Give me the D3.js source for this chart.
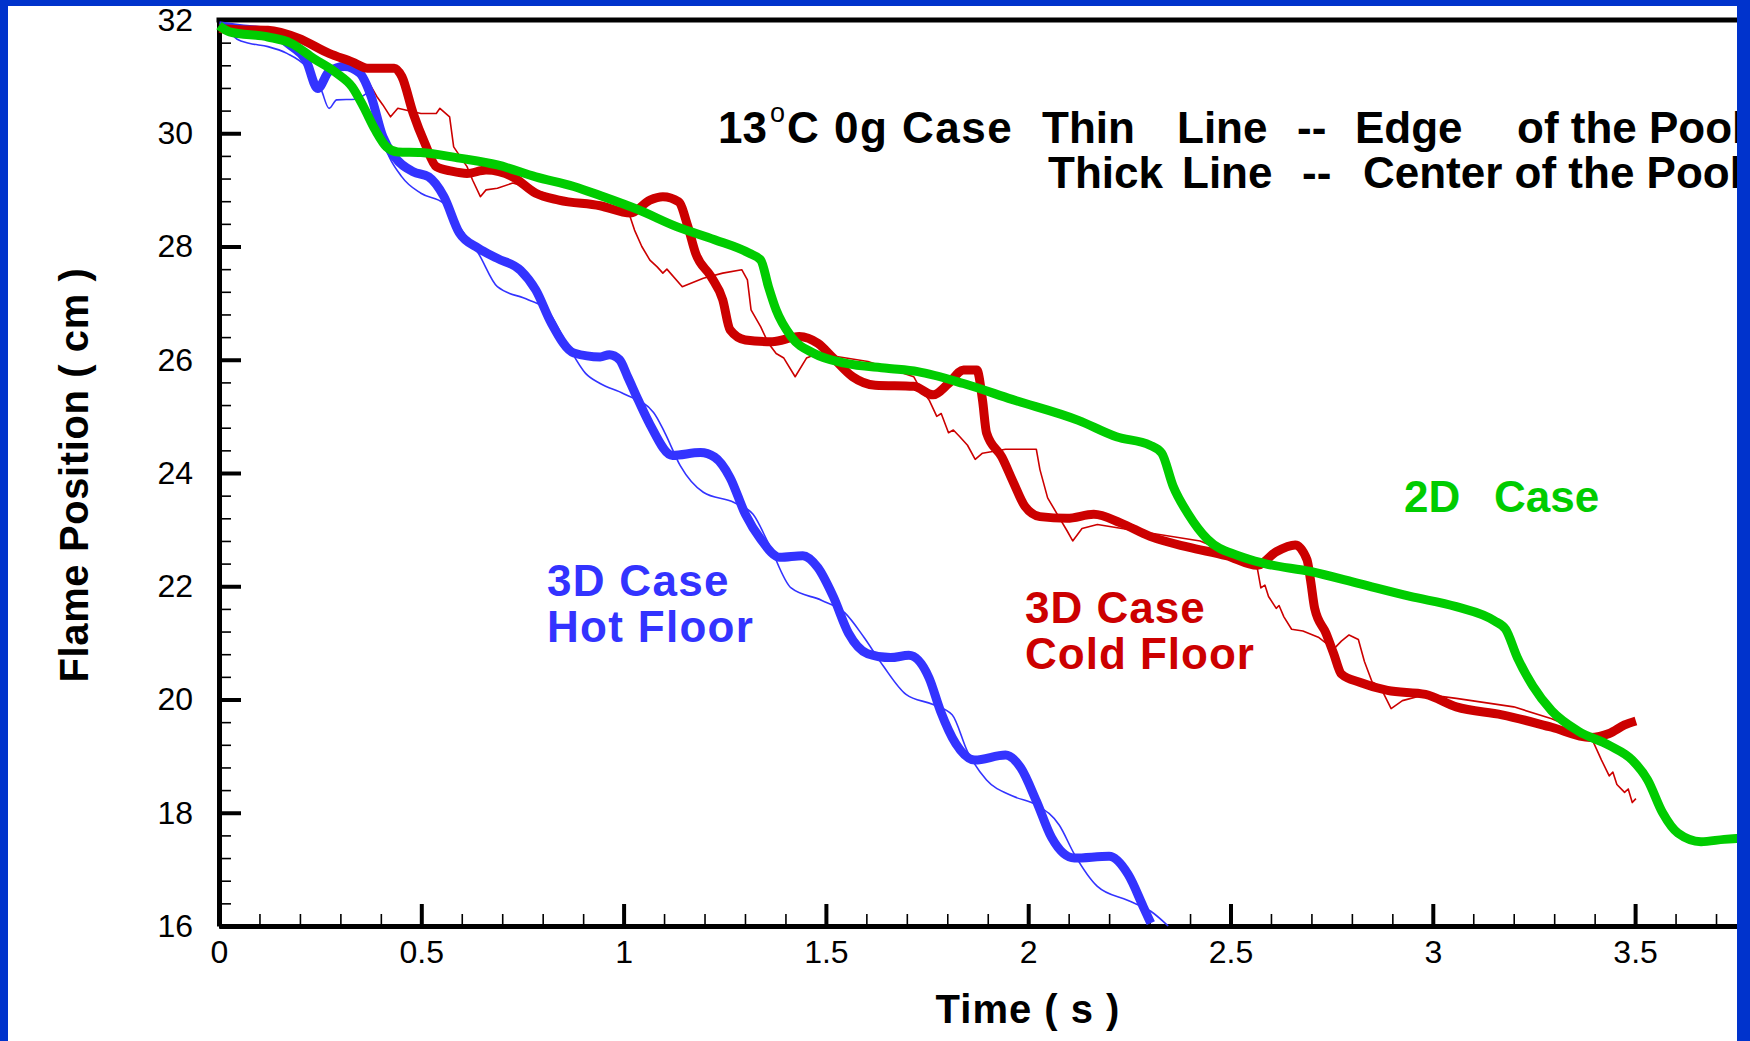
<!DOCTYPE html>
<html>
<head>
<meta charset="utf-8">
<script src="https://cdn.jsdelivr.net/npm/d3@7"></script>
<style>
  html, body { margin: 0; padding: 0; background: #ffffff; }
  svg { display: block; }
  text { font-family: "Liberation Sans", Arial, Helvetica, sans-serif; }
</style>
</head>
<body>
<svg id="chart" width="1750" height="1041"></svg>
<script>
// ---- Flame position vs time (13 C, 0g) ----

// 3D case, hot floor — centre of the pool (thick)
const hotCenterT = [0, 0.05, 0.12, 0.18, 0.215, 0.244, 0.272, 0.31, 0.348, 0.376, 0.405, 0.433, 0.48, 0.518, 0.556, 0.594, 0.641, 0.688, 0.745, 0.783, 0.821, 0.877, 0.942, 0.965, 0.99, 1.01, 1.036, 1.065, 1.121, 1.19, 1.225, 1.263, 1.301, 1.339, 1.386, 1.443, 1.48, 1.518, 1.556, 1.603, 1.66, 1.705, 1.755, 1.783, 1.821, 1.868, 1.944, 1.982, 2.02, 2.058, 2.114, 2.2, 2.247, 2.285, 2.303];
const hotCenterV = [31.9, 31.85, 31.79, 31.53, 31.29, 30.79, 31.09, 31.18, 31.06, 30.65, 29.94, 29.59, 29.32, 29.23, 28.88, 28.24, 27.97, 27.79, 27.58, 27.23, 26.65, 26.12, 26.05, 26.09, 26.0, 25.7, 25.29, 24.86, 24.31, 24.36, 24.28, 23.92, 23.27, 22.83, 22.51, 22.54, 22.33, 21.82, 21.17, 20.81, 20.74, 20.78, 20.38, 19.8, 19.22, 18.93, 19.02, 18.79, 18.21, 17.56, 17.2, 17.23, 16.91, 16.33, 16.05];

// 3D case, hot floor — edge of the pool (thin)
const hotEdgeT = [0.0, 0.012, 0.045, 0.074, 0.121, 0.168, 0.215, 0.253, 0.272, 0.291, 0.338, 0.376, 0.405, 0.452, 0.499, 0.556, 0.594, 0.641, 0.688, 0.764, 0.811, 0.859, 0.906, 0.942, 1.0, 1.074, 1.102, 1.14, 1.197, 1.273, 1.32, 1.358, 1.414, 1.49, 1.547, 1.594, 1.641, 1.698, 1.765, 1.812, 1.85, 1.897, 1.963, 2.02, 2.077, 2.114, 2.171, 2.247, 2.303, 2.346];
const hotEdgeV = [31.92, 31.89, 31.66, 31.59, 31.53, 31.41, 31.18, 30.76, 30.44, 30.59, 30.6, 30.73, 29.88, 29.23, 28.94, 28.76, 28.35, 27.88, 27.29, 27.06, 26.88, 26.29, 25.76, 25.58, 25.4, 25.07, 24.71, 24.13, 23.66, 23.48, 23.27, 22.76, 21.97, 21.75, 21.53, 21.1, 20.6, 20.09, 19.91, 19.73, 19.08, 18.58, 18.29, 18.14, 17.78, 17.27, 16.7, 16.45, 16.26, 16.0];

// 3D case, cold floor — centre of the pool (thick)
const coldCenterT = [0, 0.05, 0.121, 0.196, 0.272, 0.329, 0.367, 0.433, 0.452, 0.48, 0.509, 0.537, 0.575, 0.613, 0.66, 0.726, 0.783, 0.84, 0.942, 1.017, 1.065, 1.097, 1.136, 1.159, 1.178, 1.216, 1.245, 1.263, 1.301, 1.367, 1.434, 1.48, 1.518, 1.566, 1.622, 1.717, 1.765, 1.803, 1.84, 1.873, 1.887, 1.897, 1.935, 1.963, 1.992, 2.029, 2.096, 2.162, 2.228, 2.301, 2.396, 2.49, 2.566, 2.613, 2.66, 2.689, 2.698, 2.708, 2.736, 2.755, 2.774, 2.821, 2.888, 2.982, 3.058, 3.171, 3.294, 3.389, 3.436, 3.474, 3.502];
const coldCenterV = [31.85, 31.83, 31.82, 31.68, 31.41, 31.26, 31.15, 31.15, 31.0, 30.35, 29.82, 29.41, 29.33, 29.29, 29.35, 29.23, 28.94, 28.82, 28.72, 28.59, 28.82, 28.88, 28.79, 28.35, 27.88, 27.47, 27.06, 26.53, 26.35, 26.32, 26.41, 26.29, 26.03, 25.7, 25.55, 25.53, 25.38, 25.58, 25.82, 25.82, 25.29, 24.71, 24.28, 23.84, 23.41, 23.23, 23.2, 23.27, 23.12, 22.88, 22.69, 22.54, 22.37, 22.61, 22.73, 22.47, 22.1, 21.61, 21.17, 20.81, 20.45, 20.3, 20.16, 20.09, 19.87, 19.73, 19.51, 19.33, 19.4, 19.55, 19.62];

// 3D case, cold floor — edge of the pool (thin)
const coldEdgeT = [0, 0.045, 0.121, 0.196, 0.272, 0.33, 0.367, 0.39, 0.405, 0.424, 0.442, 0.499, 0.537, 0.546, 0.57, 0.58, 0.613, 0.627, 0.646, 0.66, 0.688, 0.726, 0.76, 0.84, 0.942, 1.013, 1.027, 1.045, 1.065, 1.083, 1.097, 1.107, 1.145, 1.197, 1.245, 1.292, 1.306, 1.315, 1.339, 1.358, 1.377, 1.396, 1.424, 1.452, 1.48, 1.604, 1.717, 1.73, 1.755, 1.774, 1.785, 1.803, 1.815, 1.831, 1.85, 1.869, 1.887, 1.944, 2.02, 2.029, 2.048, 2.072, 2.096, 2.11, 2.133, 2.171, 2.266, 2.425, 2.556, 2.566, 2.575, 2.585, 2.594, 2.613, 2.62, 2.632, 2.651, 2.679, 2.717, 2.755, 2.774, 2.793, 2.816, 2.831, 2.85, 2.869, 2.897, 2.925, 2.982, 3.058, 3.2, 3.294, 3.389, 3.403, 3.417, 3.436, 3.445, 3.455, 3.474, 3.483, 3.493, 3.502];
const coldEdgeV = [31.85, 31.7, 31.8, 31.66, 31.4, 31.2, 30.94, 30.65, 30.5, 30.29, 30.44, 30.35, 30.35, 30.44, 30.29, 29.76, 29.41, 29.17, 28.88, 29.0, 29.03, 29.12, 29.05, 28.85, 28.76, 28.59, 28.29, 28.0, 27.76, 27.64, 27.53, 27.6, 27.29, 27.44, 27.53, 27.59, 27.41, 26.88, 26.58, 26.29, 26.11, 26.03, 25.7, 26.03, 26.11, 25.97, 25.7, 25.53, 25.29, 25.0, 25.05, 24.71, 24.76, 24.64, 24.49, 24.24, 24.35, 24.42, 24.42, 24.06, 23.56, 23.27, 22.98, 22.8, 23.02, 23.09, 22.98, 22.8, 22.4, 22.33, 21.97, 22.02, 21.82, 21.61, 21.66, 21.46, 21.24, 21.21, 21.1, 20.89, 21.03, 21.14, 21.06, 20.67, 20.31, 20.24, 19.84, 19.98, 20.09, 20.02, 19.87, 19.66, 19.37, 19.15, 18.93, 18.65, 18.72, 18.5, 18.36, 18.42, 18.18, 18.25];

// 2D case (single thick line)
const twoDT = [0, 0.026, 0.121, 0.178, 0.234, 0.291, 0.329, 0.357, 0.386, 0.414, 0.442, 0.499, 0.594, 0.688, 0.783, 0.877, 0.942, 1.036, 1.131, 1.225, 1.311, 1.339, 1.358, 1.377, 1.414, 1.471, 1.547, 1.651, 1.727, 1.84, 1.96, 2.124, 2.218, 2.301, 2.33, 2.358, 2.396, 2.443, 2.519, 2.585, 2.698, 2.821, 2.944, 3.058, 3.152, 3.18, 3.209, 3.247, 3.294, 3.36, 3.436, 3.493, 3.531, 3.568, 3.606, 3.663, 3.72, 3.76, 3.8];
const twoDV = [31.9, 31.79, 31.7, 31.59, 31.32, 31.06, 30.82, 30.47, 30.06, 29.76, 29.67, 29.66, 29.56, 29.44, 29.23, 29.06, 28.9, 28.65, 28.35, 28.12, 27.88, 27.76, 27.29, 26.88, 26.41, 26.11, 25.94, 25.85, 25.79, 25.58, 25.3, 24.93, 24.64, 24.49, 24.35, 23.77, 23.27, 22.83, 22.54, 22.4, 22.26, 22.04, 21.82, 21.64, 21.39, 21.24, 20.74, 20.24, 19.8, 19.44, 19.19, 18.93, 18.58, 18.0, 17.64, 17.49, 17.53, 17.55, 17.56];

// axis ticks
const xTickValues = [0, 0.5, 1, 1.5, 2, 2.5, 3, 3.5];
const xTickLabels = ["0", "0.5", "1", "1.5", "2", "2.5", "3", "3.5"];
const yTickValues = [16, 18, 20, 22, 24, 26, 28, 30, 32];
const yTickLabels = ["16", "18", "20", "22", "24", "26", "28", "30", "32"];

// colours
const BLUE = "#3333ff", RED = "#cc0000", GREEN = "#00cc00", FRAME = "#0033cc";

const svg = d3.select("#chart");
svg.append("rect").attr("width", 1750).attr("height", 1041).attr("fill", "#ffffff");

const x = d3.scaleLinear().domain([0, 4]).range([219, 1837.4]);
const y = d3.scaleLinear().domain([16, 32]).range([926, 20]);

const zip = (ts, vs) => ts.map((t, i) => [t, vs[i]]);

const plot = svg.append("g");

// minor ticks
const xMinor = d3.range(1, 40).map(i => i / 10).filter(v => Math.abs(v * 2 - Math.round(v * 2)) > 1e-6);
const yMinor = d3.range(16, 32.01, 0.4).map(v => +v.toFixed(1)).filter(v => v % 2 !== 0);

plot.append("g")
  .attr("transform", `translate(0,${y(16)})`)
  .call(d3.axisBottom(x).tickValues(xMinor).tickFormat("").tickSize(-12).tickSizeOuter(0))
  .call(g => g.select(".domain").remove())
  .call(g => g.selectAll("line").attr("stroke", "#000").attr("stroke-width", 1.6));

plot.append("g")
  .attr("transform", `translate(${x(0)},0)`)
  .call(d3.axisLeft(y).tickValues(yMinor).tickFormat("").tickSize(-12).tickSizeOuter(0))
  .call(g => g.select(".domain").remove())
  .call(g => g.selectAll("line").attr("stroke", "#000").attr("stroke-width", 1.6));

// major ticks + labels
const xAxis = plot.append("g")
  .attr("transform", `translate(0,${y(16)})`)
  .call(d3.axisBottom(x).tickValues(xTickValues).tickFormat((d, i) => xTickLabels[i]).tickSize(-22).tickSizeOuter(0).tickPadding(14));
xAxis.select(".domain").attr("stroke", "#000").attr("stroke-width", 5);
xAxis.selectAll(".tick line").attr("stroke", "#000").attr("stroke-width", 4);
xAxis.selectAll(".tick text").attr("font-size", 32).attr("fill", "#000")
  .attr("font-family", "'Liberation Sans', Arial, sans-serif");

const yAxis = plot.append("g")
  .attr("transform", `translate(${x(0)},0)`)
  .call(d3.axisLeft(y).tickValues(yTickValues).tickFormat((d, i) => yTickLabels[i]).tickSize(-22).tickSizeOuter(0).tickPadding(26));
yAxis.select(".domain").attr("stroke", "#000").attr("stroke-width", 5);
yAxis.selectAll(".tick line").attr("stroke", "#000").attr("stroke-width", 4)
  .filter(d => d === 32).remove();
yAxis.selectAll(".tick text").attr("font-size", 32).attr("fill", "#000")
  .attr("font-family", "'Liberation Sans', Arial, sans-serif");

// top frame line
plot.append("line")
  .attr("x1", x(0) - 2.5).attr("x2", x(4)).attr("y1", y(32)).attr("y2", y(32))
  .attr("stroke", "#000").attr("stroke-width", 5);

// data lines
const lineSmooth = d3.line().x(d => x(d[0])).y(d => y(d[1])).curve(d3.curveMonotoneX);
const lineRaw = d3.line().x(d => x(d[0])).y(d => y(d[1]));

const series = [
  { pts: zip(hotEdgeT, hotEdgeV), color: BLUE, w: 1.6, gen: lineSmooth },
  { pts: zip(coldEdgeT, coldEdgeV), color: RED, w: 1.6, gen: lineRaw },
  { pts: zip(hotCenterT, hotCenterV), color: BLUE, w: 9, gen: lineSmooth },
  { pts: zip(coldCenterT, coldCenterV), color: RED, w: 9, gen: lineSmooth },
  { pts: zip(twoDT, twoDV), color: GREEN, w: 9, gen: lineSmooth }
];

plot.append("g").selectAll("path").data(series).join("path")
  .attr("d", d => d.gen(d.pts))
  .attr("fill", "none")
  .attr("stroke", d => d.color)
  .attr("stroke-width", d => d.w)
  .attr("stroke-linejoin", "round")
  .attr("stroke-linecap", "butt");

// axis titles
svg.append("text")
  .attr("x", 1028).attr("y", 1023)
  .attr("text-anchor", "middle")
  .attr("font-size", 40).attr("font-weight", "bold").attr("letter-spacing", 1)
  .text("Time ( s )");

svg.append("text")
  .attr("transform", "translate(88,475) rotate(-90)")
  .attr("text-anchor", "middle")
  .attr("font-size", 40).attr("font-weight", "bold").attr("letter-spacing", 0.6)
  .text("Flame Position ( cm )");

// header note
const note = svg.append("text").attr("font-size", 44).attr("font-weight", "bold").attr("fill", "#000");
const l1 = 143, l2 = 188;
note.append("tspan").attr("x", 718).attr("y", l1).text("13");
note.append("tspan").attr("x", 770).attr("y", l1 - 21).attr("font-size", 27).attr("font-weight", "normal").text("o");
note.append("tspan").attr("x", 787).attr("y", l1).attr("letter-spacing", 1.5).text("C 0g Case");
note.append("tspan").attr("x", 1042).attr("y", l1).text("Thin");
note.append("tspan").attr("x", 1177).attr("y", l1).text("Line");
note.append("tspan").attr("x", 1297).attr("y", l1).text("--");
note.append("tspan").attr("x", 1355).attr("y", l1).text("Edge");
note.append("tspan").attr("x", 1517).attr("y", l1).text("of the Pool");
note.append("tspan").attr("x", 1048).attr("y", l2).text("Thick");
note.append("tspan").attr("x", 1182).attr("y", l2).text("Line");
note.append("tspan").attr("x", 1302).attr("y", l2).text("--");
note.append("tspan").attr("x", 1363).attr("y", l2).text("Center of the Pool");

// series labels
const lab = (xx, yy, lines, color, ls) => {
  const t = svg.append("text").attr("font-size", 44).attr("font-weight", "bold")
    .attr("fill", color).attr("letter-spacing", ls);
  lines.forEach((s, i) => t.append("tspan").attr("x", xx).attr("y", yy + i * 46).text(s));
};
lab(547, 596, ["3D Case", "Hot Floor"], BLUE, 1.3);
lab(1025, 623, ["3D Case", "Cold Floor"], RED, 1.0);
const g2 = svg.append("text").attr("font-size", 44).attr("font-weight", "bold").attr("fill", GREEN);
g2.append("tspan").attr("x", 1404).attr("y", 512).text("2D");
g2.append("tspan").attr("x", 1494).attr("y", 512).text("Case");

// outer frame
svg.append("rect").attr("x", 0).attr("y", 0).attr("width", 1750).attr("height", 6).attr("fill", FRAME);
svg.append("rect").attr("x", 0).attr("y", 0).attr("width", 8).attr("height", 1041).attr("fill", FRAME);
svg.append("rect").attr("x", 1737).attr("y", 0).attr("width", 13).attr("height", 1041).attr("fill", FRAME);
</script>
</body>
</html>
